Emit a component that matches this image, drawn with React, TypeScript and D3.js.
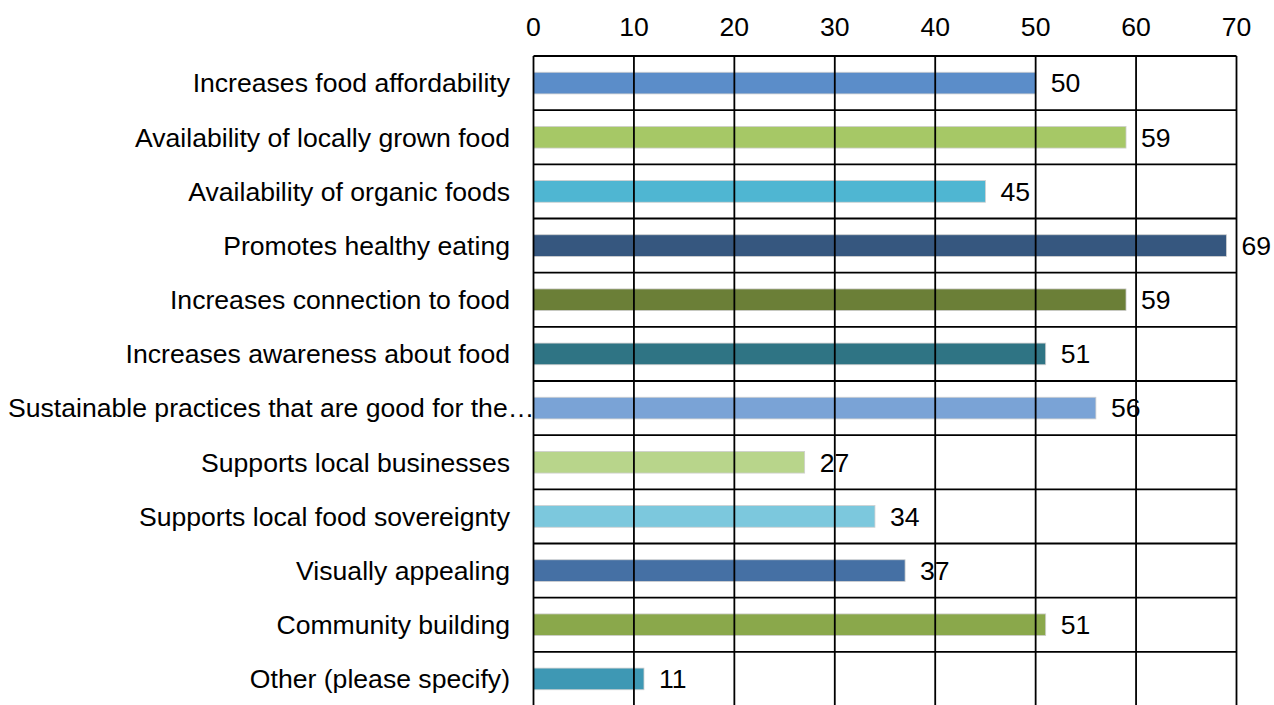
import React from "react";
import * as d3 from "d3";

const categories = [
  "Increases food affordability",
  "Availability of locally grown food",
  "Availability of organic foods",
  "Promotes healthy eating",
  "Increases connection to food",
  "Increases awareness about food",
  "Sustainable practices that are good for the\u2026",
  "Supports local businesses",
  "Supports local food sovereignty ",
  "Visually appealing",
  "Community building",
  "Other (please specify)",
];
const values = [50, 59, 45, 69, 59, 51, 56, 27, 34, 37, 51, 11];
const colors = [
  "#5B8DC9", "#A6C866", "#4FB6D2", "#36577F", "#6B7F37", "#2F7484",
  "#7AA3D6", "#B8D58B", "#7CC8DD", "#4570A4", "#8AA84B", "#3E98B4",
];
const ticks = [0, 10, 20, 30, 40, 50, 60, 70];

export default function App() {
  const W = 1274, H = 705;
  const left = 533.5, right = 1236.5, top = 56, bottom = 706;
  const x = d3.scaleLinear().domain([0, 70]).range([left, right]);
  const y = d3.scaleBand().domain(categories).range([top, bottom]).paddingInner(0).paddingOuter(0);
  const bh = y.bandwidth() * 0.4;
  const font = "'Liberation Sans', Arial, sans-serif";
  const fs = 26.6;
  return (
    <svg width={W} height={H} style={{ position: "absolute", left: 0, top: 0 }} fontFamily={font}>
      <rect width={W} height={H} fill="#fff" />
      {categories.map((c, i) => (
        <rect key={c} x={x(0)} y={y(c)! + (y.bandwidth() - bh) / 2} width={x(values[i]) - x(0)} height={bh}
          fill={colors[i]} stroke="#cfcfcf" strokeWidth={0.8} />
      ))}
      {ticks.map((t) => (
        <line key={"v" + t} x1={x(t)} x2={x(t)} y1={top} y2={bottom} stroke="#000" strokeWidth={1.8} />
      ))}
      {categories.map((c) => (
        <line key={"h" + c} x1={left} x2={right} y1={y(c)!} y2={y(c)!} stroke="#000" strokeWidth={1.8} />
      ))}
      {ticks.map((t) => (
        <text key={"t" + t} x={x(t)} y={27} dy="0.35em" textAnchor="middle" fontSize={fs} fill="#000">{t}</text>
      ))}
      {categories.map((c) => {
        const long = c.endsWith("\u2026");
        return (
          <text key={"l" + c} x={long ? 8 : 510} y={y(c)! + y.bandwidth() / 2} dy="0.35em"
            textAnchor={long ? "start" : "end"} fontSize={fs} fill="#000">{c}</text>
        );
      })}
      {categories.map((c, i) => (
        <text key={"d" + c} x={x(values[i]) + 15} y={y(c)! + y.bandwidth() / 2} dy="0.35em" fontSize={fs} fill="#000">{values[i]}</text>
      ))}
    </svg>
  );
}
